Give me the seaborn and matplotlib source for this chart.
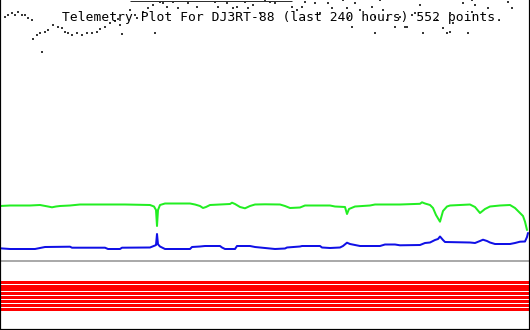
import matplotlib
matplotlib.use("Agg")
import matplotlib.pyplot as plt
import seaborn as sns
import pandas as pd

# ---- data (sample position, plotted level; screen-style scale 0..330, top = 0) ----
title = "Telemetry Plot For DJ3RT-88 (last 240 hours) 552 points."

green_x = [0, 10, 30, 40, 48, 52, 56, 60, 70, 75, 80, 120, 125, 150, 154, 156, 157, 158, 160, 165,
           190, 195, 200, 203, 206, 210, 220, 230, 232, 235, 240, 245, 250, 255, 265, 280, 285, 290,
           300, 305, 330, 335, 345, 347, 349, 355, 370, 375, 400, 420, 422, 425, 430, 433, 436, 440,
           443, 447, 450, 470, 475, 480, 485, 490, 500, 510, 515, 520, 523, 525, 527]
green_y = [206, 205.5, 205.5, 205, 206.5, 207.3, 206.5, 206, 205.5, 205, 204.5, 204.5, 204.5, 205,
           206.5, 210, 226, 210, 205, 203.5, 203.5, 204.5, 206, 208, 207, 205, 204.5, 204, 202.7,
           204, 207, 208.3, 206, 204.5, 204.3, 204.5, 206, 208, 207.5, 205.5, 205.5, 206.5, 207,
           214, 209, 206.5, 205.5, 204.5, 204.5, 203.8, 202.3, 203.5, 205, 208, 215, 221.7, 211,
           206.5, 205.5, 204.5, 207, 213, 209, 206.5, 205.5, 205, 208, 213, 216, 221.7, 230]

blue_x = [0, 10, 35, 40, 45, 70, 72, 105, 108, 120, 122, 150, 152, 155, 156, 157, 158, 160, 165,
          190, 192, 200, 205, 220, 222, 225, 235, 237, 250, 255, 265, 275, 285, 287, 300, 302, 320,
          322, 330, 340, 343, 347, 350, 355, 360, 380, 385, 395, 400, 420, 425, 430, 435, 438, 440,
          443, 445, 470, 475, 480, 483, 487, 490, 495, 510, 515, 520, 525, 527, 528]
blue_y = [248.3, 249, 249, 248, 247, 246.7, 247.7, 247.7, 249, 249, 247.7, 247.5, 246.7, 245.5, 245,
          234, 244.3, 246.5, 249, 249, 247, 246.5, 246, 246, 247.5, 249, 249, 246, 246, 247, 248,
          249, 248.5, 247.5, 246.5, 246, 246, 247.5, 248, 247.5, 246, 242.7, 244, 245, 246, 246,
          244.5, 244.5, 245.3, 245, 243, 242.5, 240, 239, 236.5, 240, 242, 242.5, 243, 241, 239.7,
          241, 242.5, 244, 244, 243, 241.7, 241.5, 237, 233]

gray_x = [0, 5, 8, 12, 15, 18, 22, 25, 28, 32,
          33, 37, 40, 42, 45, 48, 53, 58, 62, 65, 68, 72, 77, 82, 87, 92, 97, 100, 105, 110, 115, 118, 120, 122,
          130, 135, 137, 143, 148, 153, 155, 160, 163, 167, 173, 178, 188, 197, 215, 218, 227, 233, 237, 245, 248, 253, 260,
          265, 270, 275, 292, 297, 302, 305, 315, 320, 328, 332, 343, 347, 348, 352, 355, 360, 372, 375, 375, 380, 383, 387, 395,
          400, 405, 407, 412, 415, 420, 423, 437, 443, 447, 450, 450, 453, 463, 468, 472, 472, 475, 488, 508, 512]
gray_y = [19, 17, 15, 13, 15, 12, 15, 15, 18, 20,
          39, 35, 33, 52, 32, 30, 25, 27, 28, 32, 33, 35, 33, 35, 33, 33, 32, 29, 27, 23, 21, 19, 25, 34,
          10, 15, 18, 12, 8, 5, 33, 2, 3, 7, 2, 8, 3, 7, 2, 7, 3, 8, 7, 2, 8, 5, 13,
          1, 2, 3, 7, 10, 7, 2, 3, 13, 3, 8, 0, 8, 18, 27, 3, 10, 7, 17, 33, 0, 10, 20, 27,
          17, 27, 27, 15, 13, 5, 33, 20, 28, 33, 32, 13, 23, 3, 33, 12, 0, 5, 8, 2, 8]
gray_clip_span = [130, 292]   # samples above the top of the scale (clipped)

ref_level = 261               # grey reference line
red_levels = [281.5, 285.5, 289.2, 293, 297, 301.2, 305.3, 309.2]
x_span = [0, 530]

# ---- plot ----
sns.set_theme(style="white")
plt.rcParams["font.family"] = ["DejaVu Sans Mono", "DejaVu Sans"]

fig = plt.figure(figsize=(5.30, 3.30), dpi=100)
ax = fig.add_axes([0, 0, 1, 1])
ax.set_facecolor("white")

px = 72 / 100.0  # one pixel in points

ax.hlines(ref_level, x_span[0], x_span[1], color="#aaaaaa", lw=2 * px, antialiased=False)
ax.hlines(red_levels, x_span[0], x_span[1], color="#ff0000", lw=2.6 * px, antialiased=False)

green = pd.DataFrame({"x": green_x, "y": green_y})
blue = pd.DataFrame({"x": blue_x, "y": blue_y})
gray = pd.DataFrame({"x": gray_x, "y": gray_y})

sns.lineplot(data=green, x="x", y="y", ax=ax, color="#22ee22", lw=2 * px, estimator=None, sort=False)
sns.lineplot(data=blue, x="x", y="y", ax=ax, color="#1010e6", lw=2 * px, estimator=None, sort=False)
sns.scatterplot(data=gray, x="x", y="y", ax=ax, color="#383838", marker="s", s=(2.4 * px) ** 2,
                linewidth=0)
ax.hlines(0.5, gray_clip_span[0], gray_clip_span[1], color="#303030", lw=1 * px)

ax.text(283, 21, title, ha="center", va="baseline", fontsize=9.4, color="black",
        family=["DejaVu Sans Mono", "DejaVu Sans"])

ax.set_xlim(0, 530)
ax.set_ylim(330, 0)
ax.set_xlabel("")
ax.set_ylabel("")
ax.set_xticks([])
ax.set_yticks([])
for side in ["left", "right", "bottom"]:
    ax.spines[side].set_visible(True)
    ax.spines[side].set_color("black")
    ax.spines[side].set_linewidth(2.2 * px)
ax.spines["top"].set_visible(False)

fig.savefig("out.png", dpi=100, facecolor="white")
